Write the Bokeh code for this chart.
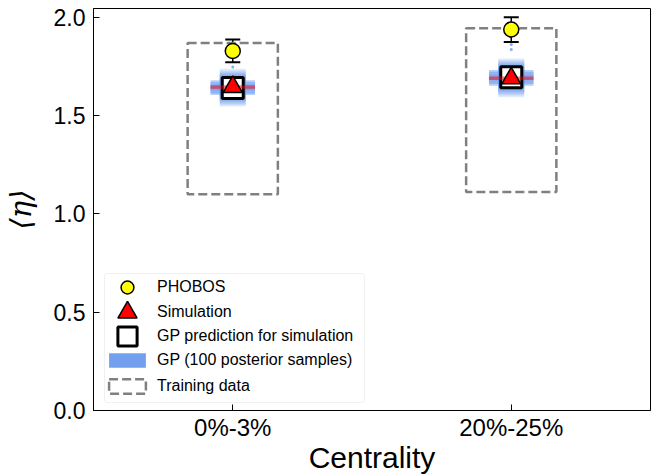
from bokeh.plotting import figure
from bokeh.models import (Range1d, FixedTicker, PrintfTickFormatter, Legend, LegendItem,
                          Whisker, TeeHead, ColumnDataSource, BoxAnnotation)
from bokeh.embed import file_html
from bokeh.resources import INLINE

# --- data -------------------------------------------------------------------
centralities = ["0%-3%", "20%-25%"]
phobos_eta = [1.829, 1.938]
phobos_err = [0.058, 0.063]
sim_eta = [1.646, 1.690]
gp_pred_eta = [1.640, 1.695]
gp_samples_0 = [1.612, 1.620, 1.627, 1.633, 1.638, 1.642, 1.646, 1.651, 1.657, 1.664, 1.672]
gp_samples_1 = [1.660, 1.668, 1.675, 1.682, 1.688, 1.693, 1.698, 1.703, 1.709, 1.716, 1.724]
gp_tails_0 = [1.748]
gp_tails_1 = [1.836, 1.862]
train_min = [1.100, 1.111]
train_max = [1.869, 1.944]
y_ticks = [0.0, 0.5, 1.0, 1.5, 2.0]

# --- styling ----------------------------------------------------------------
BLUE = "#6495ED"
GRAY = "#808080"
FONT = "Liberation Sans"
BOX_HALF = 0.162   # half width of the training-data boxes (x units)
BAR_HALF = 0.08    # half width of the horizontal sample/simulation bars

xs = list(range(len(centralities)))

p = figure(width=658, height=476, frame_width=557, frame_height=402,
           x_range=Range1d(-0.5, 1.5), y_range=Range1d(0, 2.045),
           output_backend="svg", toolbar_location=None,
           min_border_left=92, min_border_right=9, min_border_top=8, min_border_bottom=66)
p.grid.visible = False
p.background_fill_color = "white"
p.border_fill_color = "white"
p.outline_line_color = "black"
p.outline_line_width = 1
p.outline_line_alpha = 1

# axes
p.xaxis.ticker = FixedTicker(ticks=xs)
p.xaxis.major_label_overrides = {i: c for i, c in enumerate(centralities)}
p.yaxis.ticker = FixedTicker(ticks=y_ticks)
p.yaxis.formatter = PrintfTickFormatter(format="%.1f")
for ax in (p.xaxis[0], p.yaxis[0]):
    ax.major_tick_in = 6
    ax.major_tick_out = 0
    ax.minor_tick_line_color = None
    ax.axis_line_color = "black"
    ax.major_tick_line_color = "black"
    ax.major_label_text_color = "black"
    ax.major_label_text_font = FONT
    ax.axis_label_text_color = "black"
p.xaxis.major_label_text_font_size = "24px"
p.yaxis.major_label_text_font_size = "23px"
p.xaxis.major_label_standoff = 3
p.yaxis.major_label_standoff = 8
p.xaxis.axis_label = "Centrality"
p.xaxis.axis_label_text_font = FONT
p.xaxis.axis_label_text_font_size = "30px"
p.xaxis.axis_label_text_font_style = "normal"
p.xaxis.axis_label_standoff = -3
p.yaxis.axis_label = "⟨η⟩"
p.yaxis.axis_label_text_font = "DejaVu Serif"
p.yaxis.axis_label_text_font_size = "29px"
p.yaxis.axis_label_text_font_style = "italic"
p.yaxis.axis_label_standoff = 13

# training-data ranges (dashed boxes)
train_src = ColumnDataSource(dict(left=[x - BOX_HALF for x in xs], right=[x + BOX_HALF for x in xs],
                                  bottom=train_min, top=train_max))
train_r = p.quad(left="left", right="right", bottom="bottom", top="top", source=train_src,
                 fill_color=None, line_color=GRAY, line_width=2.5, line_dash="9 4")

# GP posterior samples
sx, sy = [], []
for x, vals in zip(xs, [gp_samples_0, gp_samples_1]):
    sx += [x] * len(vals)
    sy += vals
samp_src = ColumnDataSource(dict(x=sx, y=sy, x0=[v - BAR_HALF for v in sx], x1=[v + BAR_HALF for v in sx]))
p.scatter("x", "y", source=samp_src, marker="square", size=26, fill_color=BLUE, fill_alpha=0.2,
          line_color=None)
p.segment(x0="x0", x1="x1", y0="y", y1="y", source=samp_src, line_color=BLUE, line_alpha=0.45,
          line_width=3)
# zero-area patches at the sample points: they carry the solid legend swatch
gp_leg_r = p.quad(left="x", right="x", bottom="y", top="y", source=samp_src,
                  fill_color=BLUE, fill_alpha=0.9, line_color=None)
tx, ty = [], []
for x, vals in zip(xs, [gp_tails_0, gp_tails_1]):
    tx += [x] * len(vals)
    ty += vals
p.scatter(tx, ty, size=3, fill_color=BLUE, line_color=None, fill_alpha=0.8)

# GP prediction for the simulation
gp_r = p.scatter(xs, gp_pred_eta, marker="square", size=21, fill_color="white",
                 line_color="black", line_width=3)

# simulation
p.segment(x0=[x - BAR_HALF for x in xs], x1=[x + BAR_HALF for x in xs], y0=sim_eta, y1=sim_eta,
          line_color="red", line_alpha=0.5, line_width=3.5)
sim_r = p.scatter(xs, sim_eta, marker="triangle", size=19, fill_color="red",
                  line_color="black", line_width=1.5)

# PHOBOS measurement with error bars
ph_src = ColumnDataSource(dict(x=xs, y=phobos_eta,
                               lo=[v - e for v, e in zip(phobos_eta, phobos_err)],
                               hi=[v + e for v, e in zip(phobos_eta, phobos_err)]))
wh = Whisker(base="x", upper="hi", lower="lo", source=ph_src, dimension="height",
             line_color="black", line_width=1.5, level="underlay",
             upper_head=TeeHead(size=15, line_color="black", line_width=2),
             lower_head=TeeHead(size=15, line_color="black", line_width=2))
p.add_layout(wh)
ph_r = p.scatter("x", "y", source=ph_src, size=15, fill_color="yellow", line_color="black",
                 line_width=1.5)

# legend frame
frame = BoxAnnotation(left=11, right=271, bottom=8, top=137,
                      left_units="screen", right_units="screen",
                      bottom_units="screen", top_units="screen",
                      fill_color="white", fill_alpha=0.85, line_color="#cccccc",
                      line_width=1, border_radius=3)
p.add_layout(frame)

# one legend per row so each marker keeps its own size
rows = [
    ("PHOBOS", ph_r, 32, 32, 287),
    ("Simulation", sim_r, 48, 48, 312),
    ("GP prediction for simulation", gp_r, 48, 48, 336),
    ("GP (100 posterior samples)", gp_leg_r, 46, 18, 360),
    ("Training data", train_r, 46, 18, 386),
]
for label, rend, gw, gh, cy in rows:
    leg = Legend(items=[LegendItem(label=label, renderers=[rend])],
                 location=(34 - gw / 2, 410 - (cy + gh / 2)),
                 glyph_width=gw, glyph_height=gh, label_standoff=int(round(30 - gw / 2)),
                 padding=0, margin=0, spacing=0, border_line_color=None,
                 background_fill_alpha=0, label_text_font=FONT,
                 label_text_font_size="16px", label_text_color="black", label_height=10)
    p.add_layout(leg)

open("out.html", "w").write(file_html(p, INLINE))
